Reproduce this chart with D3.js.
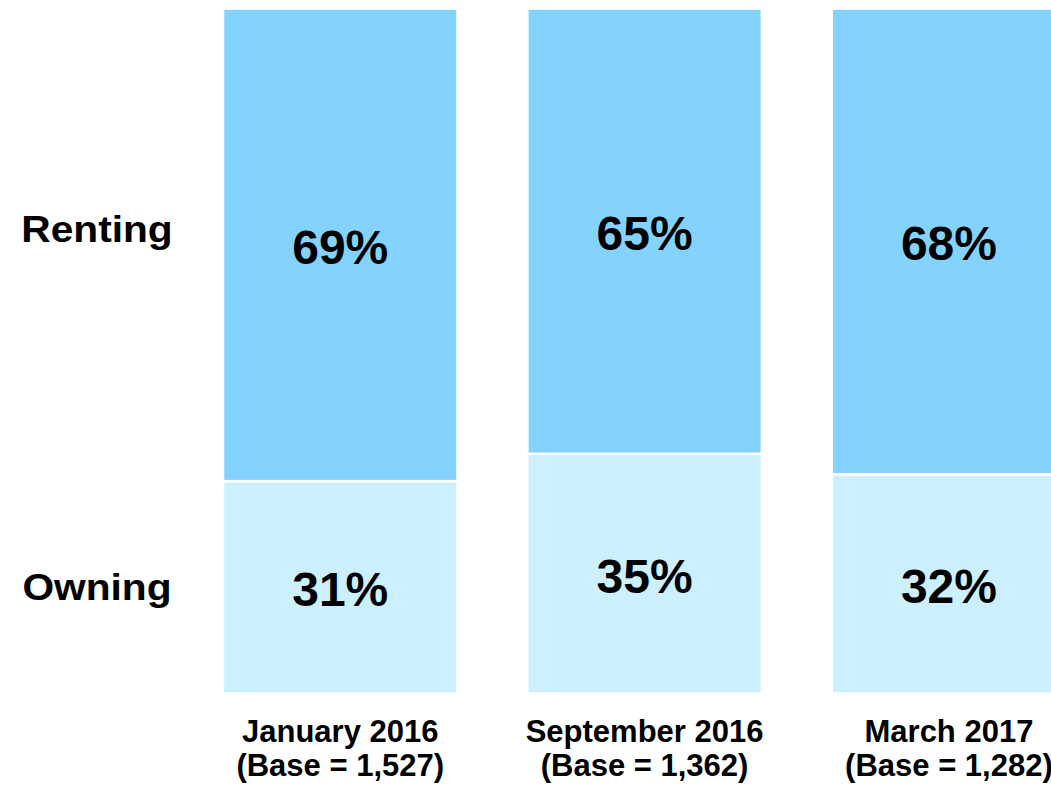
<!DOCTYPE html>
<html>
<head>
<meta charset="utf-8">
<script src="https://cdn.jsdelivr.net/npm/d3@7"></script>
<style>
  html, body { margin: 0; padding: 0; background: #fff; }
  svg { display: block; }
  text { font-family: "Liberation Sans", Arial, Helvetica, sans-serif; font-weight: bold; fill: #000; }
</style>
</head>
<body>
<svg id="chart" width="1051" height="786"></svg>
<script>
const periods = ["January 2016", "September 2016", "March 2017"];
const bases = ["(Base = 1,527)", "(Base = 1,362)", "(Base = 1,282)"];
const owning = [31, 35, 32];
const renting = [69, 65, 68];
const seriesNames = ["Owning", "Renting"];
const seriesColors = ["#CCF0FF", "#84D3FF"];

const svg = d3.select("#chart");

const x = d3.scaleBand()
  .domain(periods)
  .range([223, 1066.2])
  .paddingInner(0.2295)
  .paddingOuter(0);

const y = d3.scaleLinear().domain([0, 100]).range([693.5, 8.5]);

const rows = periods.map((p, i) => ({ period: p, Owning: owning[i], Renting: renting[i] }));
const stack = d3.stack().keys(seriesNames)(rows);

const color = d3.scaleOrdinal().domain(seriesNames).range(seriesColors);

const groups = svg.append("g").selectAll("g")
  .data(stack)
  .join("g")
  .attr("fill", d => color(d.key));

groups.selectAll("rect")
  .data(d => d)
  .join("rect")
  .attr("x", d => x(d.data.period))
  .attr("width", x.bandwidth())
  .attr("y", d => y(d[1]))
  .attr("height", d => y(d[0]) - y(d[1]))
  .attr("stroke", "#fff")
  .attr("stroke-width", 2.5);

// Value labels
groups.selectAll("text")
  .data(d => d.map(v => ({ v, key: d.key })))
  .join("text")
  .attr("x", d => x(d.v.data.period) + x.bandwidth() / 2)
  .attr("y", d => (y(d.v[0]) + y(d.v[1])) / 2 + 19)
  .attr("text-anchor", "middle")
  .attr("font-size", 48)
  .text(d => d.v.data[d.key] + "%");

// Series labels at left, aligned with first bar's segments
const firstStack = stack.map(s => ({ key: s.key, seg: s[0] }));
svg.append("g").selectAll("text")
  .data(firstStack)
  .join("text")
  .attr("transform", d => {
    const cy = (y(d.seg[0]) + y(d.seg[1])) / 2;
    const base = d.key === "Renting" ? cy - 2.5 : cy + 13;
    return `translate(97,${base}) scale(1.1,1)`;
  })
  .attr("text-anchor", "middle")
  .attr("font-size", 37)
  .text(d => d.key);

// Bottom category labels
const xAxis = svg.append("g");
const labels = xAxis.selectAll("text")
  .data(periods.map((p, i) => ({ p, b: bases[i] })))
  .join("text")
  .attr("text-anchor", "middle")
  .attr("font-size", 31)
  .attr("x", d => x(d.p) + x.bandwidth() / 2);
labels.append("tspan")
  .attr("x", d => x(d.p) + x.bandwidth() / 2)
  .attr("y", 742)
  .text(d => d.p);
labels.append("tspan")
  .attr("x", d => x(d.p) + x.bandwidth() / 2)
  .attr("y", 776)
  .text(d => d.b);
</script>
</body>
</html>
